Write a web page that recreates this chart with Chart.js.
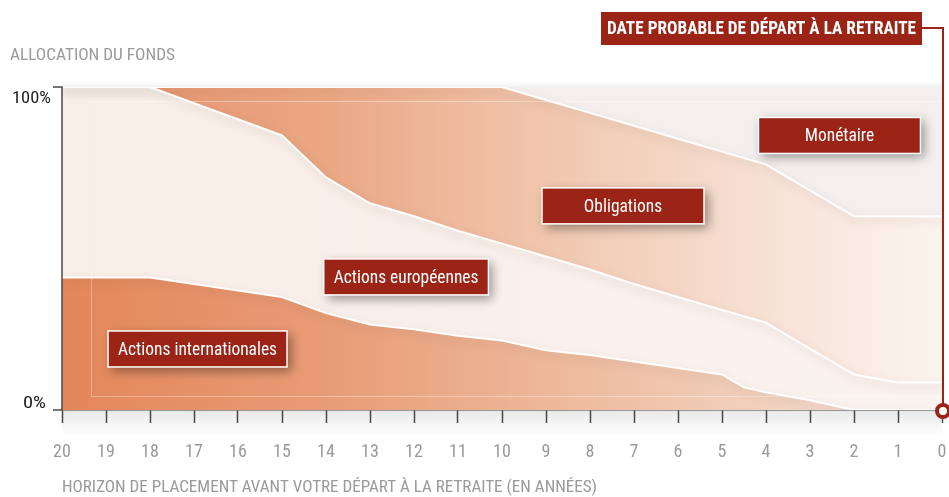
<!DOCTYPE html>
<html><head><meta charset="utf-8">
<script src="https://cdn.jsdelivr.net/npm/chart.js@4/dist/chart.umd.min.js"></script>
<style>html,body{margin:0;padding:0;background:#fff;overflow:hidden}#wrap{width:949px;height:497px;position:relative}</style>
</head><body><div id="wrap"><canvas id="c" width="949" height="497"></canvas></div>
<script>
// ---- data ----
const years = [20,19,18,17,16,15,14,13,12,11,10,9,8,7,6,5,4.5,4,3,2,1,0];
const actionsInternationales = [41,41,41,39,37,35,30,26.5,25,23,21.5,18.5,17,15,13,11,7,5.5,3,0,0,0];
const actionsEuropeennes     = [59,59,59,56,53,50,42,37.5,35,32.5,30,29,26.5,24,22,20,22,21.5,16,11,8.5,8.5];
const obligations            = [0,0,0,5,10,15,28,36,40,44.5,48.5,48.5,48.5,49,49,49,49,49,49,49,51.5,51.5];
const monetaire              = [0,0,0,0,0,0,0,0,0,0,0,4,8,12,16,20,22,24,32,40,40,40];
const seriesNames = ['Actions internationales','Actions européennes','Obligations','Monétaire'];
const yTickLabels = ['0%','100%'];
const yAxisTitle = 'ALLOCATION DU FONDS';
const xAxisTitle = 'HORIZON DE PLACEMENT AVANT VOTRE DÉPART À LA RETRAITE (EN ANNÉES)';
const retirementLabel = 'DATE PROBABLE DE DÉPART À LA RETRAITE';
const retirementYear = 0;
// label anchors (data coordinates: year, %)
const labelYears = [16.92, 12.18, 7.25, 2.33];
const labelPcts  = [18.9, 41.2, 63.2, 85.0];

const FONT = "'Liberation Sans Narrow','Arial Narrow','Roboto Condensed',Roboto,sans-serif";
const RED = '#9b2416';

function grad(stops){
  return (ctx)=>{
    const a = ctx.chart.chartArea;
    if(!a) return stops[0][1];
    const g = ctx.chart.ctx.createLinearGradient(a.left,0,a.right,0);
    stops.forEach(s=>g.addColorStop(s[0],s[1]));
    return g;
  };
}
const fills = [
  grad([[0,'#e4865a'],[0.3,'#e89c76'],[0.6,'#eebda1'],[0.85,'#f3d6c6'],[1,'#f7e6dc']]),
  grad([[0,'#f8ede7'],[1,'#fbf3ef']]),
  grad([[0,'#e58f68'],[0.3,'#eaa784'],[0.6,'#f2ccb6'],[0.85,'#f8e6dc'],[1,'#fcf4ef']]),
  '#f3efec'
];
const series = [actionsInternationales, actionsEuropeennes, obligations, monetaire];

const datasets = series.map((arr,i)=>({
  label: seriesNames[i],
  data: years.map((x,j)=>({x:x,y:arr[j]})),
  fill: i===0 ? 'origin' : '-1',
  backgroundColor: fills[i],
  borderColor: '#ffffff',
  borderWidth: i===3 ? 0 : 2,
  pointRadius: 0,
  tension: 0
}));

// draw text squeezed/stretched horizontally to a target width
function fitText(ctx, text, x, y, align, target){
  const sx = target / ctx.measureText(text).width;
  ctx.save();
  ctx.translate(x, y); ctx.scale(sx, 1);
  ctx.textAlign = align;
  ctx.fillText(text, 0, 0);
  ctx.restore();
}

const decor = {
  id:'decor',
  beforeDatasetsDraw(chart){
    const {ctx, chartArea:a} = chart;
    ctx.save();
    ctx.strokeStyle='rgba(255,255,255,0.35)'; ctx.lineWidth=1;
    ctx.beginPath();
    ctx.moveTo(a.right, a.top+14.5); ctx.lineTo(a.left+29.5, a.top+14.5); ctx.lineTo(a.left+29.5, a.bottom-13.5); ctx.lineTo(a.right, a.bottom-13.5);
    ctx.stroke();
    const g = ctx.createLinearGradient(0,a.bottom,0,a.bottom+26);
    g.addColorStop(0,'rgba(0,0,0,0.09)'); g.addColorStop(1,'rgba(0,0,0,0)');
    ctx.fillStyle=g; ctx.fillRect(a.left,a.bottom,a.right-a.left,26);
    const g2 = ctx.createLinearGradient(0,a.top-6,0,a.top);
    g2.addColorStop(0,'rgba(0,0,0,0)'); g2.addColorStop(1,'rgba(0,0,0,0.05)');
    ctx.fillStyle=g2; ctx.fillRect(a.left,a.top-6,a.right-a.left,6);
    ctx.restore();
  },
  beforeDatasetDraw(chart){
    const ctx=chart.ctx; ctx.save();
    ctx.shadowColor='rgba(90,60,50,0.22)'; ctx.shadowBlur=8; ctx.shadowOffsetX=2; ctx.shadowOffsetY=4;
  },
  afterDatasetDraw(chart){ chart.ctx.restore(); },
  afterDatasetsDraw(chart){
    const {ctx, chartArea:a, scales:{y}} = chart;
    ctx.save();
    ctx.strokeStyle='#4a4a4a'; ctx.lineWidth=1.5;
    ctx.beginPath();
    ctx.moveTo(a.left-9, y.getPixelForValue(100)); ctx.lineTo(a.left, y.getPixelForValue(100));
    ctx.lineTo(a.left, a.bottom);
    ctx.moveTo(a.left-9, a.bottom); ctx.lineTo(a.left, a.bottom);
    ctx.stroke();
    ctx.fillStyle='#222'; ctx.font='17px '+FONT; ctx.textBaseline='middle';
    fitText(ctx, yTickLabels[1], a.left-11, y.getPixelForValue(100)+12, 'right', 39);
    fitText(ctx, yTickLabels[0], a.left-16, y.getPixelForValue(0)-6, 'right', 23);
    ctx.fillStyle='#9a9a9a';
    fitText(ctx, yAxisTitle, 10, 56, 'left', 165);
    fitText(ctx, xAxisTitle, a.left, 488, 'left', 535);
    ctx.restore();
  },
  afterDraw(chart){
    const {ctx, chartArea:a, scales:{x,y}} = chart;
    ctx.save();
    ctx.font='19px '+FONT; ctx.textBaseline='middle';
    const SX = Math.min(1, 159 / ctx.measureText(seriesNames[0]).width);
    seriesNames.forEach((name,i)=>{
      const cx = x.getPixelForValue(labelYears[i]);
      const cy = y.getPixelForValue(labelPcts[i]);
      const tw = ctx.measureText(name).width*SX;
      const w = Math.max(162, tw+20), h=36;
      ctx.save();
      ctx.shadowColor='rgba(0,0,0,0.4)'; ctx.shadowBlur=10; ctx.shadowOffsetX=4; ctx.shadowOffsetY=4;
      ctx.fillStyle=RED; ctx.fillRect(cx-w/2, cy-h/2, w, h);
      ctx.restore();
      ctx.strokeStyle='#ffffff'; ctx.lineWidth=1.5;
      ctx.strokeRect(cx-w/2, cy-h/2, w, h);
      ctx.fillStyle='#fff';
      fitText(ctx, name, cx, cy+1, 'center', tw);
    });
    // retirement marker
    const rx = x.getPixelForValue(retirementYear);
    const bx1=601, bx2=922, by1=12, by2=45;
    ctx.fillStyle=RED; ctx.fillRect(bx1,by1,bx2-bx1,by2-by1);
    ctx.font='bold 19px '+FONT; ctx.fillStyle='#fff';
    fitText(ctx, retirementLabel, (bx1+bx2)/2, (by1+by2)/2+1, 'center', 309);
    ctx.strokeStyle=RED; ctx.lineWidth=2;
    ctx.beginPath(); ctx.moveTo(bx2,28); ctx.lineTo(rx+1,28); ctx.lineTo(rx+1,a.bottom); ctx.stroke();
    ctx.beginPath(); ctx.arc(rx+1, a.bottom+1, 6, 0, Math.PI*2);
    ctx.fillStyle='#fff'; ctx.fill(); ctx.lineWidth=4; ctx.stroke();
    ctx.restore();
  }
};

new Chart(document.getElementById('c'), {
  type:'line',
  data:{datasets},
  options:{
    responsive:false, animation:false,
    layout:{padding:{left:62, right:7, top:87, bottom:0}},
    plugins:{legend:{display:false}, tooltip:{enabled:false}, filler:{drawTime:'beforeDatasetsDraw'}},
    scales:{
      x:{
        type:'linear', reverse:true, min:0, max:20, z:1,
        afterFit(s){ s.height = 87; s.paddingLeft = 0; s.paddingRight = 0; },
        ticks:{stepSize:1, color:'#9a9a9a', padding:19, font:{family:FONT, size:18}},
        grid:{drawOnChartArea:false, drawTicks:true, tickLength:13, tickColor:'#4a4a4a', tickWidth:1.5},
        border:{display:true, color:'#4a4a4a', width:1.5},
        title:{display:false}
      },
      y:{type:'linear', stacked:true, min:0, max:100, display:false}
    }
  },
  plugins:[decor]
});
</script></body></html>
